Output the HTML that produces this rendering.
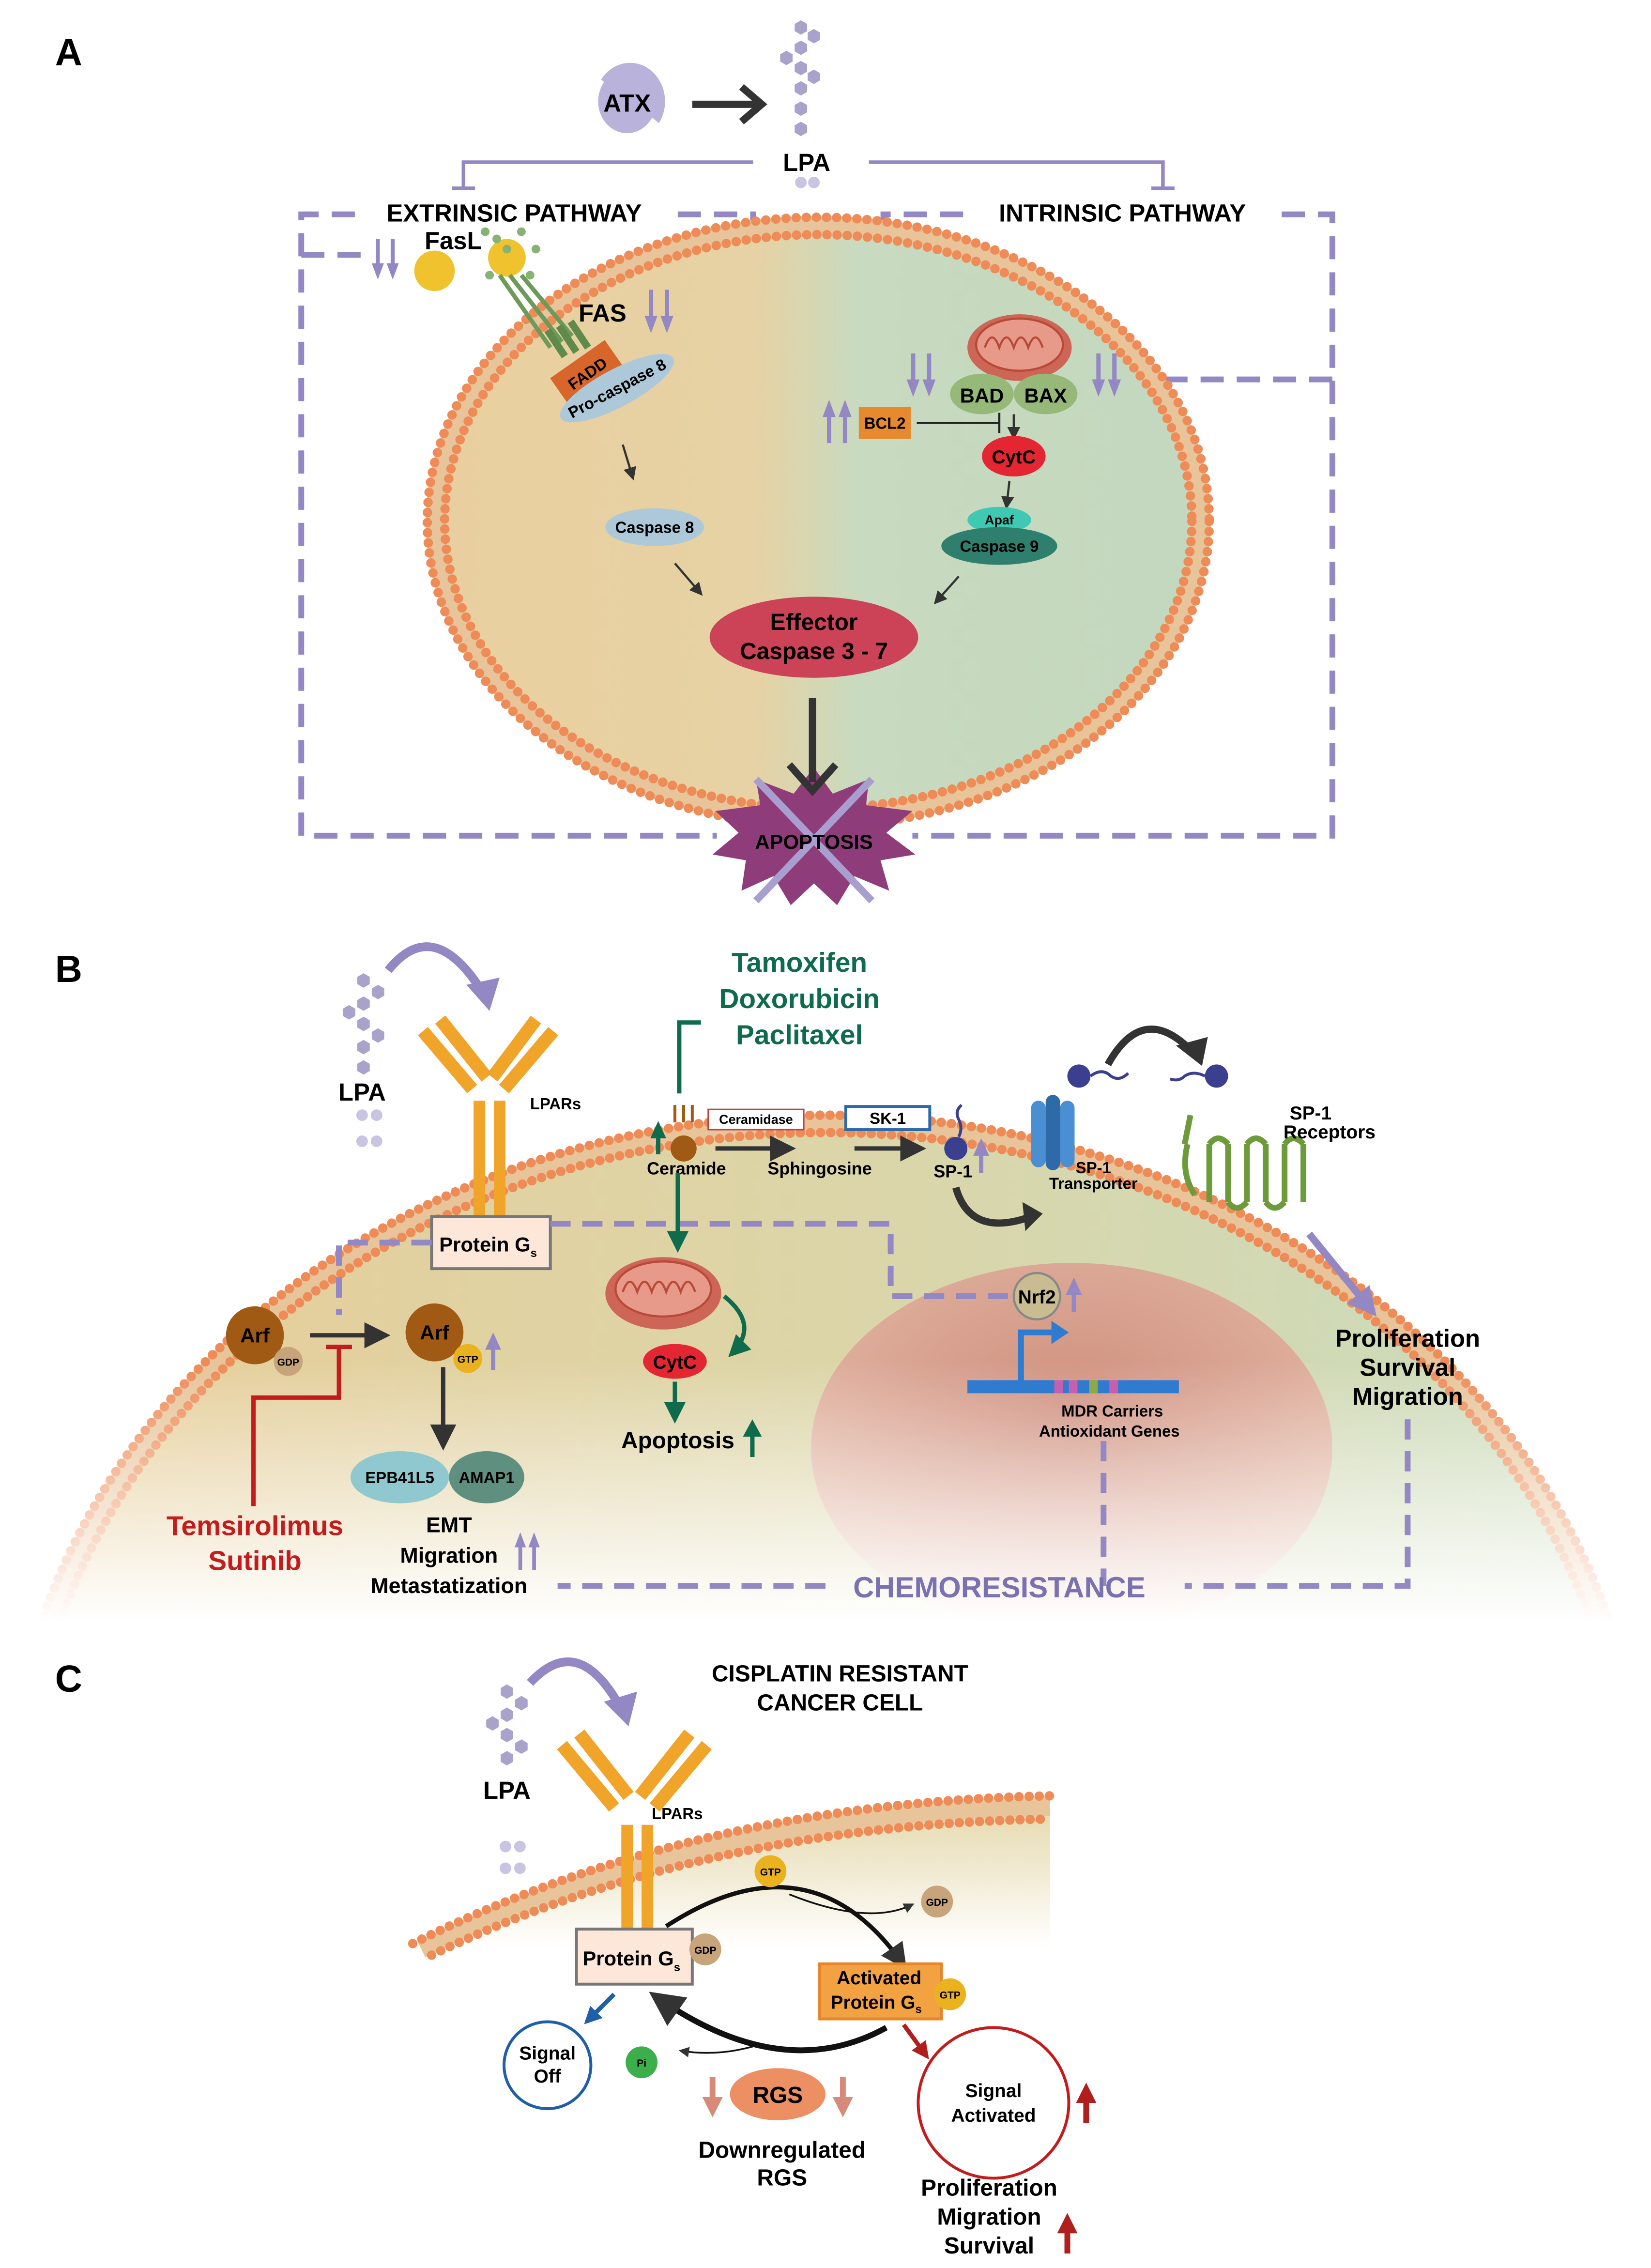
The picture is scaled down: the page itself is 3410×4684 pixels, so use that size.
<!DOCTYPE html>
<html><head><meta charset="utf-8"><style>
html,body{margin:0;padding:0;background:#fff;width:3410px;height:4684px;overflow:hidden;}
svg{display:block;}
text{font-family:"Liberation Sans",sans-serif;font-weight:bold;}
</style></head><body>
<svg width="3410" height="4684" viewBox="0 0 1140 1566" xmlns="http://www.w3.org/2000/svg">
<defs>
<linearGradient id="cellA" x1="0" x2="1" y1="0" y2="0">
<stop offset="0" stop-color="#e9cf9f"/><stop offset="0.42" stop-color="#e6d2a4"/><stop offset="0.55" stop-color="#c8dabf"/><stop offset="1" stop-color="#c3d8bf"/></linearGradient>
<linearGradient id="cellBh" x1="0" x2="1"><stop offset="0" stop-color="#e8cd98"/><stop offset="0.5" stop-color="#dcd5a8"/><stop offset="1" stop-color="#c9dcbd"/></linearGradient>
<linearGradient id="fadeB" x1="0" x2="0" y1="0" y2="1"><stop offset="0" stop-color="#fff" stop-opacity="0"/><stop offset="0.5" stop-color="#fff" stop-opacity="0"/><stop offset="1" stop-color="#fff" stop-opacity="1"/></linearGradient>
<radialGradient id="nuc" cx="0.5" cy="0.4" r="0.6"><stop offset="0" stop-color="#cf8f7e"/><stop offset="1" stop-color="#e2b5a2"/></radialGradient>
<linearGradient id="fadeC" x1="0" x2="0" y1="0" y2="1"><stop offset="0" stop-color="#e3d6a6"/><stop offset="1" stop-color="#fff"/></linearGradient>
<marker id="ar" viewBox="0 0 10 10" refX="8" refY="5" markerWidth="6" markerHeight="6" orient="auto"><path d="M0,0 L10,5 L0,10 z" fill="#333"/></marker>
<marker id="arg" viewBox="0 0 10 10" refX="8" refY="5" markerWidth="5" markerHeight="5" orient="auto"><path d="M0,0 L10,5 L0,10 z" fill="#0e6b4c"/></marker>
<marker id="arp" viewBox="0 0 10 10" refX="8" refY="5" markerWidth="4" markerHeight="4" orient="auto"><path d="M0,0 L10,5 L0,10 z" fill="#9488c4"/></marker>
<marker id="arr" viewBox="0 0 10 10" refX="8" refY="5" markerWidth="4" markerHeight="4" orient="auto"><path d="M0,0 L10,5 L0,10 z" fill="#b01e1e"/></marker>
<marker id="arb" viewBox="0 0 10 10" refX="8" refY="5" markerWidth="4" markerHeight="4" orient="auto"><path d="M0,0 L10,5 L0,10 z" fill="#1e5fa8"/></marker>
<symbol id="pdown" viewBox="0 0 20 30"><rect x="3" y="0" width="3" height="22" fill="#9488c4"/><path d="M0,18 L4.5,30 L9,18z" fill="#9488c4"/><rect x="14" y="0" width="3" height="22" fill="#9488c4"/><path d="M11,18 L15.5,30 L20,18z" fill="#9488c4"/></symbol>
<symbol id="pup" viewBox="0 0 20 30"><rect x="3" y="8" width="3" height="22" fill="#9488c4"/><path d="M0,12 L4.5,0 L9,12z" fill="#9488c4"/><rect x="14" y="8" width="3" height="22" fill="#9488c4"/><path d="M11,12 L15.5,0 L20,12z" fill="#9488c4"/></symbol>
<symbol id="hex" viewBox="0 0 10 10"><path d="M5,0 L9.3,2.5 L9.3,7.5 L5,10 L0.7,7.5 L0.7,2.5z" fill="#a9a3cc"/></symbol>
</defs>

<!-- ================= A ================= -->
<text x="38" y="45" font-size="26">A</text>
<path d="M415,55 a20,22 0 1 1 40,30 l-15,-12 z" fill="#b9b2da"/>
<ellipse cx="433" cy="70" rx="20" ry="22" fill="#b9b2da"/>
<text x="433" y="77" font-size="17" text-anchor="middle">ATX</text>
<line x1="478" y1="72" x2="522" y2="72" stroke="#333" stroke-width="5"/>
<path d="M512,60 L526,72 L512,84" fill="none" stroke="#333" stroke-width="5"/>
<g>
<use href="#hex" x="548" y="14" width="10" height="10"/><use href="#hex" x="557" y="20" width="10" height="10"/>
<use href="#hex" x="548" y="28" width="10" height="10"/><use href="#hex" x="538" y="35" width="10" height="10"/>
<use href="#hex" x="548" y="42" width="10" height="10"/><use href="#hex" x="557" y="48" width="10" height="10"/>
<use href="#hex" x="548" y="56" width="10" height="10"/><use href="#hex" x="548" y="70" width="10" height="10"/>
<use href="#hex" x="548" y="84" width="10" height="10"/>
<circle cx="553" cy="126" r="4" fill="#c9c4e2"/><circle cx="562" cy="126" r="4" fill="#c9c4e2"/>
</g>
<text x="557" y="118" font-size="17" text-anchor="middle">LPA</text>
<path d="M520,112 H320 V130 M312,130 H328" fill="none" stroke="#9488c4" stroke-width="2.5"/>
<path d="M600,112 H803 V130 M795,130 H811" fill="none" stroke="#9488c4" stroke-width="2.5"/>
<g fill="none" stroke="#9488c4" stroke-width="4" stroke-dasharray="16,9">
<path d="M245,148 H208 V577 H495"/>
<path d="M468,148 H520 V215 H474"/>
<path d="M208,176 H255"/>
<path d="M665,148 H610 V275"/>
<path d="M885,148 H920 V577 H630"/>
<path d="M920,262 H805"/>
</g>
<text x="355" y="153" font-size="17" text-anchor="middle">EXTRINSIC PATHWAY</text>
<text x="775" y="153" font-size="17" text-anchor="middle">INTRINSIC PATHWAY</text>
<!-- cell A -->
<ellipse cx="565" cy="360" rx="264" ry="204" fill="url(#cellA)" stroke="#e7c49a" stroke-width="14"/>
<ellipse cx="565" cy="360" rx="270" ry="210" fill="none" stroke="#ee8b56" stroke-width="6.5" stroke-dasharray="0 7" stroke-linecap="round"/>
<ellipse cx="565" cy="360" rx="258" ry="198" fill="none" stroke="#ee8b56" stroke-width="6.5" stroke-dasharray="0 7" stroke-linecap="round"/>
<!-- FasL -->
<circle cx="300" cy="187" r="14" fill="#efc22e"/>
<use href="#pdown" x="255" y="165" width="22" height="28"/>
<text x="313" y="172" font-size="17" text-anchor="middle">FasL</text>
<circle cx="350" cy="178" r="13" fill="#efc22e"/>
<g fill="#86b273"><circle cx="335" cy="160" r="3"/><circle cx="343" cy="165" r="3"/><circle cx="360" cy="160" r="3"/><circle cx="370" cy="172" r="3"/><circle cx="366" cy="190" r="3"/><circle cx="338" cy="190" r="3"/><circle cx="350" cy="172" r="3"/></g>
<g stroke="#6d9a58" stroke-width="3"><line x1="345" y1="190" x2="380" y2="240"/><line x1="352" y1="190" x2="388" y2="236"/><line x1="360" y1="190" x2="395" y2="232"/></g>
<g stroke="#5f8a4c" stroke-width="5"><line x1="378" y1="228" x2="390" y2="246"/><line x1="386" y1="225" x2="398" y2="243"/><line x1="394" y1="222" x2="406" y2="240"/></g>
<text x="416" y="222" font-size="17" text-anchor="middle">FAS</text>
<use href="#pdown" x="443" y="200" width="24" height="30"/>
<g transform="rotate(-35 405 257)"><rect x="382" y="246" width="46" height="22" fill="#d8652a"/><text x="405" y="262" font-size="11" text-anchor="middle">FADD</text></g>
<g transform="rotate(-28 426 268)"><ellipse cx="426" cy="268" rx="44" ry="13" fill="#acc8d9"/><text x="426" y="272" font-size="11" text-anchor="middle">Pro-caspase 8</text></g>
<line x1="430" y1="307" x2="437" y2="330" stroke="#333" stroke-width="1.5" marker-end="url(#ar)"/>
<ellipse cx="452" cy="364" rx="34" ry="13" fill="#acc8d9"/>
<text x="452" y="368" font-size="11" text-anchor="middle">Caspase 8</text>
<line x1="466" y1="389" x2="484" y2="410" stroke="#333" stroke-width="1.5" marker-end="url(#ar)"/>
<!-- intrinsic -->
<ellipse cx="704" cy="240" rx="36" ry="23" fill="#cd6656"/>
<ellipse cx="704" cy="238" rx="30" ry="18" fill="#e89a8a" stroke="#b94a3a" stroke-width="1.5"/>
<path d="M680,240 q5,-14 10,0 q5,-14 10,0 q5,-14 10,0 q5,-14 10,0" fill="none" stroke="#b94a3a" stroke-width="1.5"/>
<ellipse cx="678" cy="272" rx="22" ry="14" fill="#96b97a"/><ellipse cx="722" cy="272" rx="22" ry="14" fill="#96b97a"/>
<text x="678" y="278" font-size="14" text-anchor="middle">BAD</text><text x="722" y="278" font-size="14" text-anchor="middle">BAX</text>
<use href="#pdown" x="624" y="244" width="24" height="30"/>
<use href="#pdown" x="752" y="244" width="24" height="30"/>
<use href="#pup" x="566" y="276" width="24" height="30"/>
<rect x="593" y="281" width="36" height="22" fill="#e7892f"/>
<text x="611" y="296" font-size="11" text-anchor="middle">BCL2</text>
<path d="M633,292 H690 M690,285 V299" stroke="#222" stroke-width="1.5"/>
<line x1="700" y1="286" x2="700" y2="302" stroke="#333" stroke-width="1.5" marker-end="url(#ar)"/>
<ellipse cx="700" cy="315" rx="22" ry="14" fill="#e42632"/>
<text x="700" y="320" font-size="13" text-anchor="middle">CytC</text>
<line x1="697" y1="332" x2="695" y2="350" stroke="#333" stroke-width="1.5" marker-end="url(#ar)"/>
<ellipse cx="690" cy="359" rx="22" ry="9" fill="#3fc9b3"/>
<text x="690" y="362" font-size="9" text-anchor="middle">Apaf</text>
<ellipse cx="690" cy="377" rx="40" ry="13" fill="#2f7f6f"/>
<text x="690" y="381" font-size="11" text-anchor="middle">Caspase 9</text>
<line x1="662" y1="398" x2="646" y2="416" stroke="#333" stroke-width="1.5" marker-end="url(#ar)"/>
<ellipse cx="562" cy="440" rx="72" ry="28" fill="#cc4257"/>
<text x="562" y="435" font-size="16" text-anchor="middle">Effector</text>
<text x="562" y="455" font-size="16" text-anchor="middle">Caspase 3 - 7</text>
<!-- apoptosis -->
<path d="M562,530 L575,548 L600,538 L598,556 L630,560 L612,575 L632,590 L608,594 L614,615 L590,605 L578,625 L562,610 L546,625 L534,605 L512,615 L515,594 L492,590 L510,575 L494,560 L525,556 L522,538 L548,548z" fill="#8e3d7a"/>
<line x1="561" y1="482" x2="561" y2="540" stroke="#333" stroke-width="5"/>
<path d="M545,528 L561,546 L577,528" fill="none" stroke="#333" stroke-width="5"/>
<line x1="522" y1="538" x2="602" y2="622" stroke="#a99ed0" stroke-width="5"/>
<line x1="602" y1="538" x2="522" y2="622" stroke="#a99ed0" stroke-width="5"/>
<text x="562" y="586" font-size="14" text-anchor="middle">APOPTOSIS</text>

<!-- ================= B ================= -->
<text x="38" y="678" font-size="26">B</text>
<clipPath id="clipB"><rect x="0" y="760" width="1140" height="360"/></clipPath>
<g clip-path="url(#clipB)">
<ellipse cx="570" cy="1260" rx="559" ry="484" fill="url(#cellBh)" stroke="#e7c49a" stroke-width="14"/>
<ellipse cx="570" cy="1260" rx="565" ry="490" fill="none" stroke="#ee8b56" stroke-width="6.5" stroke-dasharray="0 7" stroke-linecap="round"/>
<ellipse cx="570" cy="1260" rx="553" ry="478" fill="none" stroke="#ee8b56" stroke-width="6.5" stroke-dasharray="0 7" stroke-linecap="round"/>
<ellipse cx="740" cy="1000" rx="180" ry="128" fill="url(#nuc)"/>
<rect x="0" y="760" width="1140" height="360" fill="url(#fadeB)"/>
</g>
<!-- LPA B -->
<g><use href="#hex" x="246" y="672" width="10" height="10"/><use href="#hex" x="256" y="680" width="10" height="10"/><use href="#hex" x="246" y="688" width="10" height="10"/><use href="#hex" x="236" y="694" width="10" height="10"/><use href="#hex" x="246" y="702" width="10" height="10"/><use href="#hex" x="256" y="710" width="10" height="10"/><use href="#hex" x="246" y="718" width="10" height="10"/><use href="#hex" x="246" y="732" width="10" height="10"/>
<circle cx="250" cy="770" r="4" fill="#c9c4e2"/><circle cx="260" cy="770" r="4" fill="#c9c4e2"/><circle cx="250" cy="788" r="4" fill="#c9c4e2"/><circle cx="260" cy="788" r="4" fill="#c9c4e2"/></g>
<text x="250" y="760" font-size="17" text-anchor="middle">LPA</text>
<path d="M268,670 Q300,630 335,688" fill="none" stroke="#9488c4" stroke-width="6"/>
<path d="M322,680 L338,698 L345,675z" fill="#9488c4"/>
<!-- LPAR -->
<g stroke="#f0a42a" stroke-width="9"><line x1="292" y1="712" x2="326" y2="752"/><line x1="304" y1="704" x2="336" y2="744"/><line x1="382" y1="712" x2="348" y2="752"/><line x1="370" y1="704" x2="340" y2="744"/></g>
<rect x="327" y="760" width="8" height="80" fill="#f0a42a"/><rect x="341" y="760" width="8" height="80" fill="#f0a42a"/>
<text x="366" y="766" font-size="11">LPARs</text>
<rect x="298" y="840" width="82" height="36" fill="#fce7d8" stroke="#777" stroke-width="2"/>
<text x="337" y="864" font-size="14" text-anchor="middle">Protein G<tspan font-size="8" dy="4">s</tspan></text>
<g fill="none" stroke="#9488c4" stroke-width="4" stroke-dasharray="14,8">
<path d="M298,858 H234 V908"/>
<path d="M380,845 H615 V895 H700"/>
<path d="M762,995 V1095"/>
<path d="M972,980 V1095 H818"/>
<path d="M570,1095 H385"/>
</g>
<text x="690" y="1103" font-size="20" fill="#7a72b0" text-anchor="middle">CHEMORESISTANCE</text>
<!-- Arf -->
<circle cx="176" cy="922" r="20" fill="#a05a14"/><text x="176" y="927" font-size="14" text-anchor="middle">Arf</text>
<circle cx="199" cy="940" r="10" fill="#c8a47a"/><text x="199" y="943" font-size="7" text-anchor="middle">GDP</text>
<line x1="214" y1="922" x2="266" y2="922" stroke="#333" stroke-width="3" marker-end="url(#ar)"/>
<circle cx="300" cy="920" r="20" fill="#a05a14"/><text x="300" y="925" font-size="14" text-anchor="middle">Arf</text>
<circle cx="323" cy="938" r="10" fill="#eab21e"/><text x="323" y="941" font-size="7" text-anchor="middle">GTP</text>
<rect x="339" y="930" width="3" height="16" fill="#9488c4"/><path d="M335,932 L340.5,920 L346,932z" fill="#9488c4"/>
<path d="M175,1040 V965 H234 V930 M225,930 H243" fill="none" stroke="#c41c1c" stroke-width="3"/>
<line x1="306" y1="944" x2="306" y2="998" stroke="#333" stroke-width="3" marker-end="url(#ar)"/>
<ellipse cx="276" cy="1020" rx="34" ry="18" fill="#8fc9cf"/><text x="276" y="1024" font-size="11" text-anchor="middle">EPB41L5</text>
<ellipse cx="336" cy="1020" rx="26" ry="18" fill="#5e8f7f"/><text x="336" y="1024" font-size="11" text-anchor="middle">AMAP1</text>
<text x="310" y="1058" font-size="15" text-anchor="middle">EMT</text>
<text x="310" y="1079" font-size="15" text-anchor="middle">Migration</text>
<use href="#pup" x="353" y="1058" width="22" height="26"/>
<text x="310" y="1100" font-size="15" text-anchor="middle">Metastatization</text>
<text x="176" y="1060" font-size="19" fill="#c41c1c" text-anchor="middle">Temsirolimus</text>
<text x="176" y="1084" font-size="19" fill="#c41c1c" text-anchor="middle">Sutinib</text>
<!-- drugs -->
<text x="552" y="671" font-size="19" fill="#0e6b4c" text-anchor="middle">Tamoxifen</text>
<text x="552" y="696" font-size="19" fill="#0e6b4c" text-anchor="middle">Doxorubicin</text>
<text x="552" y="721" font-size="19" fill="#0e6b4c" text-anchor="middle">Paclitaxel</text>
<path d="M484,706 H469 V755" fill="none" stroke="#0e6b4c" stroke-width="3"/>
<rect x="453" y="783" width="3" height="14" fill="#0e6b4c"/><path d="M449,786 L454.5,774 L460,786z" fill="#0e6b4c"/>
<path d="M466,763 v12 M472,763 v12 M478,763 v12" stroke="#a05a14" stroke-width="2"/>
<circle cx="472" cy="793" r="9" fill="#a05a14"/>
<text x="474" y="811" font-size="12" text-anchor="middle">Ceramide</text>
<rect x="489" y="766" width="66" height="14" fill="#fff" stroke="#b44" stroke-width="1"/><text x="522" y="776" font-size="9" text-anchor="middle">Ceramidase</text>
<line x1="494" y1="793" x2="546" y2="793" stroke="#333" stroke-width="3" marker-end="url(#ar)"/>
<text x="566" y="811" font-size="12" text-anchor="middle">Sphingosine</text>
<rect x="584" y="764" width="58" height="16" fill="#fff" stroke="#2e6aa8" stroke-width="2"/><text x="613" y="776" font-size="11" text-anchor="middle">SK-1</text>
<line x1="590" y1="793" x2="636" y2="793" stroke="#333" stroke-width="3" marker-end="url(#ar)"/>
<circle cx="660" cy="793" r="8" fill="#3a3f8f"/>
<path d="M662,785 q3,-6 0,-12 q-3,-6 2,-10" fill="none" stroke="#3a3f8f" stroke-width="2"/>
<text x="658" y="813" font-size="12" text-anchor="middle">SP-1</text>
<rect x="676" y="796" width="3" height="14" fill="#9488c4"/><path d="M672,798 L677.5,786 L683,798z" fill="#9488c4"/>
<line x1="468" y1="810" x2="468" y2="862" stroke="#0e6b4c" stroke-width="3" marker-end="url(#arg)"/>
<ellipse cx="458" cy="893" rx="40" ry="25" fill="#cd6656"/>
<ellipse cx="458" cy="890" rx="33" ry="19" fill="#e89a8a" stroke="#b94a3a" stroke-width="1.5"/>
<path d="M430,892 q5,-14 10,0 q5,-14 10,0 q5,-14 10,0 q5,-14 10,0 q5,-14 10,0" fill="none" stroke="#b94a3a" stroke-width="1.5"/>
<path d="M500,895 Q525,915 505,935" fill="none" stroke="#0e6b4c" stroke-width="3" marker-end="url(#arg)"/>
<ellipse cx="466" cy="940" rx="22" ry="12" fill="#e42632"/><text x="466" y="945" font-size="13" text-anchor="middle">CytC</text>
<line x1="466" y1="954" x2="466" y2="980" stroke="#0e6b4c" stroke-width="3" marker-end="url(#arg)"/>
<text x="468" y="1000" font-size="16" text-anchor="middle">Apoptosis</text>
<rect x="518" y="990" width="3" height="16" fill="#0e6b4c"/><path d="M513,992 L519.5,980 L526,992z" fill="#0e6b4c"/>
<!-- transporter -->
<g fill="#4a8fd1"><rect x="712" y="760" width="10" height="46" rx="5"/><rect x="722" y="756" width="10" height="52" rx="5" fill="#2e6aa8"/><rect x="732" y="760" width="10" height="46" rx="5"/></g>
<text x="755" y="810" font-size="11" text-anchor="middle">SP-1</text>
<text x="755" y="821" font-size="11" text-anchor="middle">Transporter</text>
<path d="M660,820 Q670,855 712,840" fill="none" stroke="#333" stroke-width="5"/>
<path d="M706,830 L720,838 L708,850z" fill="#333"/>
<circle cx="745" cy="743" r="8" fill="#3a3f8f"/><path d="M753,743 q8,-6 14,0 q6,4 12,-2" fill="none" stroke="#3a3f8f" stroke-width="2"/>
<path d="M765,735 Q790,690 825,728" fill="none" stroke="#333" stroke-width="5"/>
<path d="M812,722 L830,736 L834,716z" fill="#333"/>
<circle cx="840" cy="743" r="8" fill="#3a3f8f"/><path d="M832,743 q-8,-4 -14,0 q-4,4 -10,2" fill="none" stroke="#3a3f8f" stroke-width="2"/>
<g fill="none" stroke="#6d9a3a" stroke-width="4">
<path d="M822,770 L818,790 M820,790 q-5,20 5,35 M835,790 v40 M848,790 v40 M861,790 v40 M874,790 v40 M887,790 v40 M900,790 v40"/>
<path d="M835,790 q6,-8 13,0 M861,790 q6,-8 13,0 M887,790 q6,-8 13,0 M848,830 q6,8 13,0 M874,830 q6,8 13,0"/>
</g>
<text x="905" y="773" font-size="13" text-anchor="middle">SP-1</text>
<text x="918" y="786" font-size="13" text-anchor="middle">Receptors</text>
<line x1="904" y1="852" x2="948" y2="906" stroke="#9488c4" stroke-width="5" marker-end="url(#arp)"/>
<text x="972" y="930" font-size="17" text-anchor="middle">Proliferation</text>
<text x="972" y="950" font-size="17" text-anchor="middle">Survival</text>
<text x="972" y="970" font-size="17" text-anchor="middle">Migration</text>
<!-- Nrf2 -->
<circle cx="716" cy="895" r="16" fill="#c8bc90" stroke="#888" stroke-width="1.5"/><text x="716" y="900" font-size="13" text-anchor="middle">Nrf2</text>
<rect x="740" y="892" width="3" height="14" fill="#9488c4"/><path d="M736,894 L741.5,882 L747,894z" fill="#9488c4"/>
<rect x="668" y="953" width="146" height="9" fill="#2e7bd0"/>
<rect x="728" y="953" width="6" height="9" fill="#c45fb2"/><rect x="738" y="953" width="6" height="9" fill="#c45fb2"/><rect x="752" y="953" width="6" height="9" fill="#8fa84a"/><rect x="766" y="953" width="6" height="9" fill="#c45fb2"/>
<path d="M705,953 V920 H730" fill="none" stroke="#2e7bd0" stroke-width="4"/><path d="M726,912 L738,920 L726,928z" fill="#2e7bd0"/>
<text x="768" y="978" font-size="11" text-anchor="middle">MDR Carriers</text>
<text x="766" y="992" font-size="11" text-anchor="middle">Antioxidant Genes</text>

<!-- ================= C ================= -->
<text x="38" y="1168" font-size="26">C</text>
<text x="580" y="1161" font-size="16" text-anchor="middle">CISPLATIN RESISTANT</text>
<text x="580" y="1181" font-size="16" text-anchor="middle">CANCER CELL</text>
<path d="M285,1342 Q480,1245 725,1240 V1345 H285z" fill="url(#fadeC)"/>
<path d="M291,1346 Q482,1252 725,1248" fill="none" stroke="#e7c49a" stroke-width="12"/>
<path d="M285,1342 Q480,1245 725,1240" fill="none" stroke="#ee8b56" stroke-width="6.5" stroke-dasharray="0 7" stroke-linecap="round"/>
<path d="M298,1350 Q485,1260 725,1256" fill="none" stroke="#ee8b56" stroke-width="6.5" stroke-dasharray="0 7" stroke-linecap="round"/>
<g><use href="#hex" x="345" y="1163" width="10" height="10"/><use href="#hex" x="355" y="1171" width="10" height="10"/><use href="#hex" x="345" y="1179" width="10" height="10"/><use href="#hex" x="335" y="1185" width="10" height="10"/><use href="#hex" x="345" y="1193" width="10" height="10"/><use href="#hex" x="355" y="1201" width="10" height="10"/><use href="#hex" x="345" y="1209" width="10" height="10"/>
<circle cx="349" cy="1275" r="4" fill="#c9c4e2"/><circle cx="359" cy="1275" r="4" fill="#c9c4e2"/><circle cx="349" cy="1290" r="4" fill="#c9c4e2"/><circle cx="359" cy="1290" r="4" fill="#c9c4e2"/></g>
<text x="350" y="1242" font-size="17" text-anchor="middle">LPA</text>
<path d="M366,1162 Q400,1125 430,1182" fill="none" stroke="#9488c4" stroke-width="6"/>
<path d="M417,1175 L434,1192 L440,1168z" fill="#9488c4"/>
<g stroke="#f0a42a" stroke-width="9"><line x1="388" y1="1205" x2="424" y2="1248"/><line x1="400" y1="1197" x2="434" y2="1240"/><line x1="488" y1="1205" x2="452" y2="1248"/><line x1="476" y1="1197" x2="442" y2="1240"/></g>
<rect x="429" y="1260" width="8" height="75" fill="#f0a42a"/><rect x="443" y="1260" width="8" height="75" fill="#f0a42a"/>
<text x="450" y="1256" font-size="11">LPARs</text>
<rect x="398" y="1332" width="80" height="38" fill="#fce7d8" stroke="#777" stroke-width="2"/>
<text x="436" y="1357" font-size="14" text-anchor="middle">Protein G<tspan font-size="8" dy="4">s</tspan></text>
<circle cx="487" cy="1346" r="11" fill="#c8a47a"/><text x="487" y="1349" font-size="7" text-anchor="middle">GDP</text>
<path d="M460,1330 Q560,1265 624,1357" fill="none" stroke="#111" stroke-width="3" marker-end="url(#ar)"/>
<circle cx="532" cy="1292" r="11" fill="#eab21e"/><text x="532" y="1295" font-size="7" text-anchor="middle">GTP</text>
<path d="M545,1308 Q600,1330 630,1315" fill="none" stroke="#111" stroke-width="1.2" marker-end="url(#ar)"/>
<circle cx="647" cy="1313" r="11" fill="#c8a47a"/><text x="647" y="1316" font-size="7" text-anchor="middle">GDP</text>
<rect x="566" y="1356" width="84" height="38" fill="#f3a242" stroke="#e8842a" stroke-width="2"/>
<text x="607" y="1370" font-size="13" text-anchor="middle">Activated</text>
<text x="605" y="1387" font-size="13" text-anchor="middle">Protein G<tspan font-size="8" dy="3">s</tspan></text>
<circle cx="656" cy="1377" r="11" fill="#eab21e"/><text x="656" y="1380" font-size="7" text-anchor="middle">GTP</text>
<path d="M612,1400 Q540,1440 452,1378" fill="none" stroke="#111" stroke-width="4" marker-end="url(#ar)"/>
<path d="M520,1413 Q495,1420 470,1416" fill="none" stroke="#111" stroke-width="1.2" marker-end="url(#ar)"/>
<circle cx="443" cy="1424" r="11" fill="#3cae4a"/><text x="443" y="1427" font-size="7" text-anchor="middle">Pi</text>
<line x1="424" y1="1377" x2="405" y2="1396" stroke="#1e5fa8" stroke-width="3" marker-end="url(#arb)"/>
<circle cx="378" cy="1426" r="30" fill="#fff" stroke="#1e5fa8" stroke-width="2"/>
<text x="378" y="1422" font-size="13" text-anchor="middle">Signal</text><text x="378" y="1438" font-size="13" text-anchor="middle">Off</text>
<line x1="624" y1="1398" x2="640" y2="1420" stroke="#b01e1e" stroke-width="3" marker-end="url(#arr)"/>
<circle cx="686" cy="1452" r="52" fill="#fff" stroke="#c41c1c" stroke-width="2"/>
<text x="686" y="1448" font-size="13" text-anchor="middle">Signal</text><text x="686" y="1465" font-size="13" text-anchor="middle">Activated</text>
<rect x="748" y="1450" width="4" height="16" fill="#b01e1e"/><path d="M743,1452 L750,1438 L757,1452z" fill="#b01e1e"/>
<ellipse cx="537" cy="1446" rx="33" ry="18" fill="#ec8f63"/>
<text x="537" y="1452" font-size="16" text-anchor="middle">RGS</text>
<rect x="490" y="1434" width="4" height="16" fill="#d88a7a"/><path d="M485,1448 L492,1462 L499,1448z" fill="#d88a7a"/>
<rect x="580" y="1434" width="4" height="16" fill="#d88a7a"/><path d="M575,1448 L582,1462 L589,1448z" fill="#d88a7a"/>
<text x="540" y="1490" font-size="16" text-anchor="middle">Downregulated</text>
<text x="540" y="1509" font-size="16" text-anchor="middle">RGS</text>
<text x="683" y="1516" font-size="16" text-anchor="middle">Proliferation</text>
<text x="683" y="1536" font-size="16" text-anchor="middle">Migration</text>
<text x="683" y="1556" font-size="16" text-anchor="middle">Survival</text>
<rect x="735" y="1540" width="4" height="16" fill="#b01e1e"/><path d="M730,1542 L737,1528 L744,1542z" fill="#b01e1e"/>
</svg>
</body></html>
